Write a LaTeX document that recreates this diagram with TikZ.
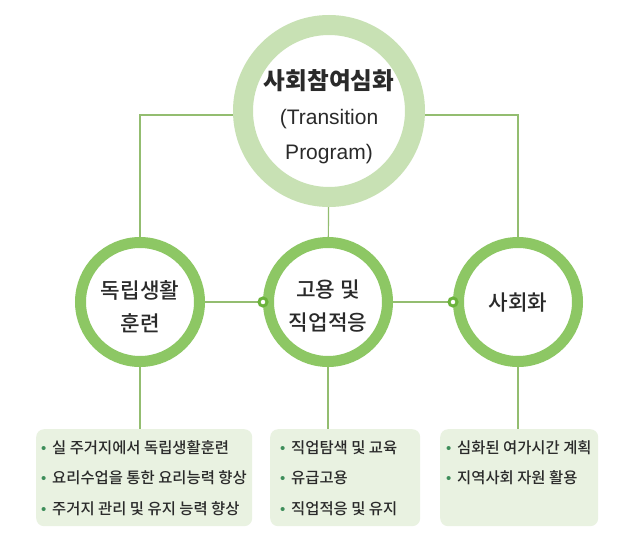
\documentclass[tikz,border=0pt]{standalone}
\usepackage{fontspec}
\setmainfont{Noto Sans CJK KR}
\newfontfamily\mediumfont{Noto Sans CJK KR Medium}
\newfontfamily\latinfont{Liberation Sans}
\usetikzlibrary{backgrounds}
\definecolor{paleringgreen}{HTML}{C8E1B4}
\definecolor{ringgreen}{HTML}{8DC764}
\definecolor{linegreen}{HTML}{93BD70}
\definecolor{boxgreen}{HTML}{E9F2E1}
\definecolor{dotgreen}{HTML}{3E8E5A}
\definecolor{jointgreen}{HTML}{6BB33B}
\definecolor{textgray}{HTML}{2A2A2A}
\newcommand{\listdot}{\makebox[11pt][l]{\textcolor{dotgreen}{\latinfont\fontsize{15}{15}\selectfont •}}}

\begin{document}
\begin{tikzpicture}[x=1pt, y=-1pt,
      main ring/.style={circle, draw=paleringgreen, line width=20pt, fill=white, minimum size=172pt, inner sep=0pt},
      sub ring/.style={circle, draw=ringgreen, line width=11pt, fill=white, minimum size=119pt, inner sep=0pt},
      link/.style={draw=linegreen, line width=1.2pt},
      joint/.style={circle, draw=jointgreen, line width=3pt, fill=white, minimum size=8pt, inner sep=0pt},
      list box/.style={rectangle, rounded corners=8pt, fill=boxgreen, minimum height=97pt, inner sep=0pt, anchor=north west},
      label/.style={text=textgray, align=center, font=\mediumfont\fontsize{21.3}{33}\selectfont},
      item/.style={text=textgray, anchor=west, inner sep=0pt, font=\mediumfont\fontsize{15.4}{17}\selectfont}]

   \useasboundingbox (0,0) rectangle (637,541);

   % top circle
   \node[main ring] (program) at (329,111) {};
   \node[text=textgray, align=center, font=\fontsize{21}{35}\selectfont] (programlabel) at (329,117)
      {{\bfseries\fontsize{23.6}{35}\selectfont 사회참여심화}\\{\latinfont (Transition}\\{\latinfont Program)}};

   % three areas
   \node[sub ring] (living) at (140,302) {};
   \node[sub ring] (job) at (328,302) {};
   \node[sub ring] (social) at (518,302) {};
   \node[label] (livinglabel) at (140,306.5) {독립생활\\훈련};
   \node[label] (joblabel) at (328,306) {고용 및\\직업적응};
   \node[label] (sociallabel) at (518,303) {사회화};

   \node[joint] (jobjoint) at (job.west) {};
   \node[joint] (socialjoint) at (social.west) {};

   % lists
   \node[list box, minimum width=216pt] (livingbox) at (36,429) {};
   \node[list box, minimum width=150pt] (jobbox) at (270,429) {};
   \node[list box, minimum width=158pt] (socialbox) at (440,429) {};

   \foreach \txt [count=\i] in {실 주거지에서 독립생활훈련, 요리수업을 통한 요리능력 향상, 주거지 관리 및 유지 능력 향상}
      \node[item] (livingitem\i) at (41,{417+30.5*\i}) {\listdot\txt};
   \foreach \txt [count=\i] in {직업탐색 및 교육, 유급고용, 직업적응 및 유지}
      \node[item] (jobitem\i) at (280,{417+30.5*\i}) {\listdot\txt};
   \foreach \txt [count=\i] in {심화된 여가시간 계획, 지역사회 자원 활용}
      \node[item] (socialitem\i) at (446,{417+30.5*\i}) {\listdot\txt};

   \begin{scope}[on background layer]
      \fill[white] (0,0) rectangle (637,541);
      \coordinate (hub) at (329,115);
      \draw[link] (hub) -| (living);
      \draw[link] (hub) -| (social);
      \draw[link] (program) -- (job);
      \draw[link] (living) -- (job);
      \draw[link] (job) -- (social);
      \draw[link] (living.south) -- (living.south |- livingbox.north);
      \draw[link] (job.south) -- (job.south |- jobbox.north);
      \draw[link] (social.south) -- (social.south |- socialbox.north);
   \end{scope}
\end{tikzpicture}
\end{document}
